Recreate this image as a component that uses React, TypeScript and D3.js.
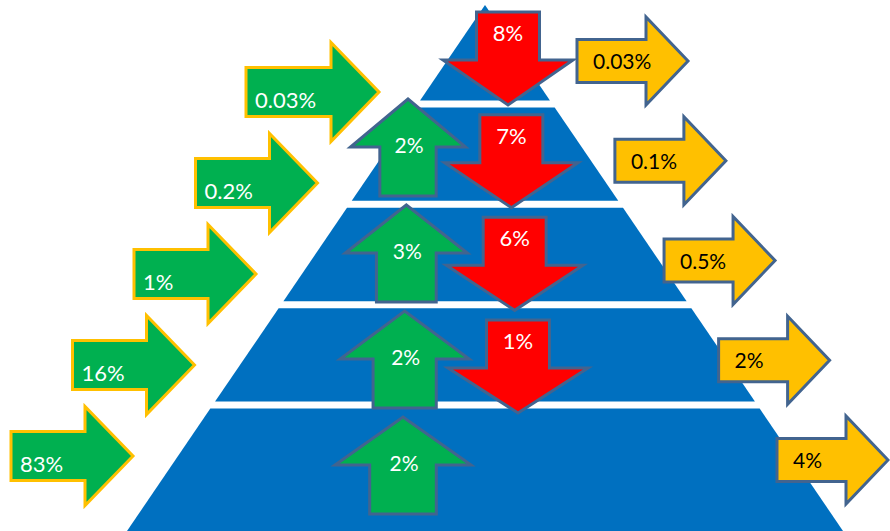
import React from "react";
import * as d3 from "d3";

// ---- Data ----
const tiers = ["Tier 1", "Tier 2", "Tier 3", "Tier 4", "Tier 5"];
const inflowLabels = ["0.03%", "0.2%", "1%", "16%", "83%"];
const outflowLabels = ["0.03%", "0.1%", "0.5%", "2%", "4%"];
const downLabels = ["8%", "7%", "6%", "1%"];
const upLabels = ["2%", "3%", "2%", "2%"];

const W = 890;
const H = 531;
const BLUE = "#0070C0";
const GREEN = "#00B050";
const RED = "#FF0000";
const GOLD = "#FFC000";
const OUTLINE = "#42648F";
const FONT = "Lato, 'Open Sans', sans-serif";

function rightArrow(tipX: number, cy: number, w: number, h: number, bh: number, hl: number) {
  const x0 = tipX - w;
  const hx = tipX - hl;
  const p = d3.path();
  p.moveTo(x0, cy - bh / 2);
  p.lineTo(hx, cy - bh / 2);
  p.lineTo(hx, cy - h / 2);
  p.lineTo(tipX, cy);
  p.lineTo(hx, cy + h / 2);
  p.lineTo(hx, cy + bh / 2);
  p.lineTo(x0, cy + bh / 2);
  p.closePath();
  return p.toString();
}

function vertArrow(cx: number, tipY: number, w: number, h: number, bw: number, hl: number, dir: 1 | -1) {
  const base = tipY - dir * h;
  const hy = tipY - dir * hl;
  const p = d3.path();
  p.moveTo(cx - bw / 2, base);
  p.lineTo(cx + bw / 2, base);
  p.lineTo(cx + bw / 2, hy);
  p.lineTo(cx + w / 2, hy);
  p.lineTo(cx, tipY);
  p.lineTo(cx - w / 2, hy);
  p.lineTo(cx - bw / 2, hy);
  p.closePath();
  return p.toString();
}

export default function App() {
  const apexX = 485;
  const apexY = 5;
  const half = d3.scaleLinear().domain([apexY, H]).range([0, 358]);
  const bandEdge = d3.scaleLinear().domain([0, 5]).range([0, 502]);
  const gap = 7;

  const tierPolys = tiers.map((_, i) => {
    const top = i === 0 ? apexY : bandEdge(i) + gap;
    const bottom = i === tiers.length - 1 ? H + 40 : bandEdge(i + 1);
    const pts: [number, number][] = [
      [apexX - half(top), top],
      [apexX + half(top), top],
      [apexX + half(bottom), bottom],
      [apexX - half(bottom), bottom],
    ];
    return d3.line()(pts) + "Z";
  });

  const inTipX = d3.scaleLinear().domain([0, 4]).range([379, 133]);
  const inTipY = d3.scaleLinear().domain([0, 4]).range([92, 456]);
  const outTipX = d3.scalePow().exponent(1.2).domain([0, 4]).range([688, 888]);
  const outTipY = d3.scaleLinear().domain([0, 4]).range([61, 460]);
  const downX = d3.scaleLinear().domain([0, 3]).range([508, 518]);
  const downTipY = d3.scaleLinear().domain([0, 3]).range([105, 413]);
  const downW = d3.scaleLinear().domain([0, 3]).range([130, 140]);
  const upX = d3.scaleLinear().domain([0, 3]).range([408, 403]);
  const upTipY = d3.scaleLinear().domain([0, 3]).range([99, 417]);
  const upW = d3.scaleLinear().domain([0, 3]).range([115, 136]);

  return (
    <svg width={W} height={H} style={{ position: "absolute", left: 0, top: 0, background: "#fff" }}>
      <g>
        {tierPolys.map((d, i) => (
          <path key={i} d={d} fill={BLUE} />
        ))}
      </g>

      {upLabels.map((lab, i) => {
        const w = upW(i);
        return (
          <g key={"u" + i}>
            <path
              d={vertArrow(upX(i), upTipY(i), w, 97, w * 0.49, 48, -1)}
              fill={GREEN}
              stroke={OUTLINE}
              strokeWidth={3}
              strokeLinejoin="miter"
            />
            <text x={upX(i) + 1} y={upTipY(i) + 54} textAnchor="middle" fill="#fff" fontFamily={FONT} fontSize={21}>
              {lab}
            </text>
          </g>
        );
      })}

      {downLabels.map((lab, i) => {
        const tip = downTipY(i);
        return (
          <g key={"d" + i}>
            <path
              d={vertArrow(downX(i), tip, downW(i), 93, 63, 45, 1)}
              fill={RED}
              stroke={OUTLINE}
              strokeWidth={3}
              strokeLinejoin="miter"
            />
            <text x={downX(i)} y={tip - 93 + 29} textAnchor="middle" fill="#fff" fontFamily={FONT} fontSize={22}>
              {lab}
            </text>
          </g>
        );
      })}

      {inflowLabels.map((lab, i) => {
        const tx = inTipX(i);
        const ty = inTipY(i);
        const w = 122 + Math.max(0, lab.length - 4) * 11;
        return (
          <g key={"in" + i}>
            <path d={rightArrow(tx, ty, w, 99, 49, 48)} fill={GREEN} stroke={GOLD} strokeWidth={3} strokeLinejoin="miter" />
            <text x={tx - w + 9} y={ty + 24.5 - 9} fill="#fff" fontFamily={FONT} fontSize={22}>
              {lab}
            </text>
          </g>
        );
      })}

      {outflowLabels.map((lab, i) => {
        const tx = outTipX(i);
        const ty = outTipY(i);
        return (
          <g key={"out" + i}>
            <path d={rightArrow(tx, ty, 111, 88, 43, 42)} fill={GOLD} stroke={OUTLINE} strokeWidth={3} strokeLinejoin="miter" />
            <text x={tx - 111 + 16} y={ty + 8} fill="#000" fontFamily={FONT} fontSize={21}>
              {lab}
            </text>
          </g>
        );
      })}
    </svg>
  );
}
